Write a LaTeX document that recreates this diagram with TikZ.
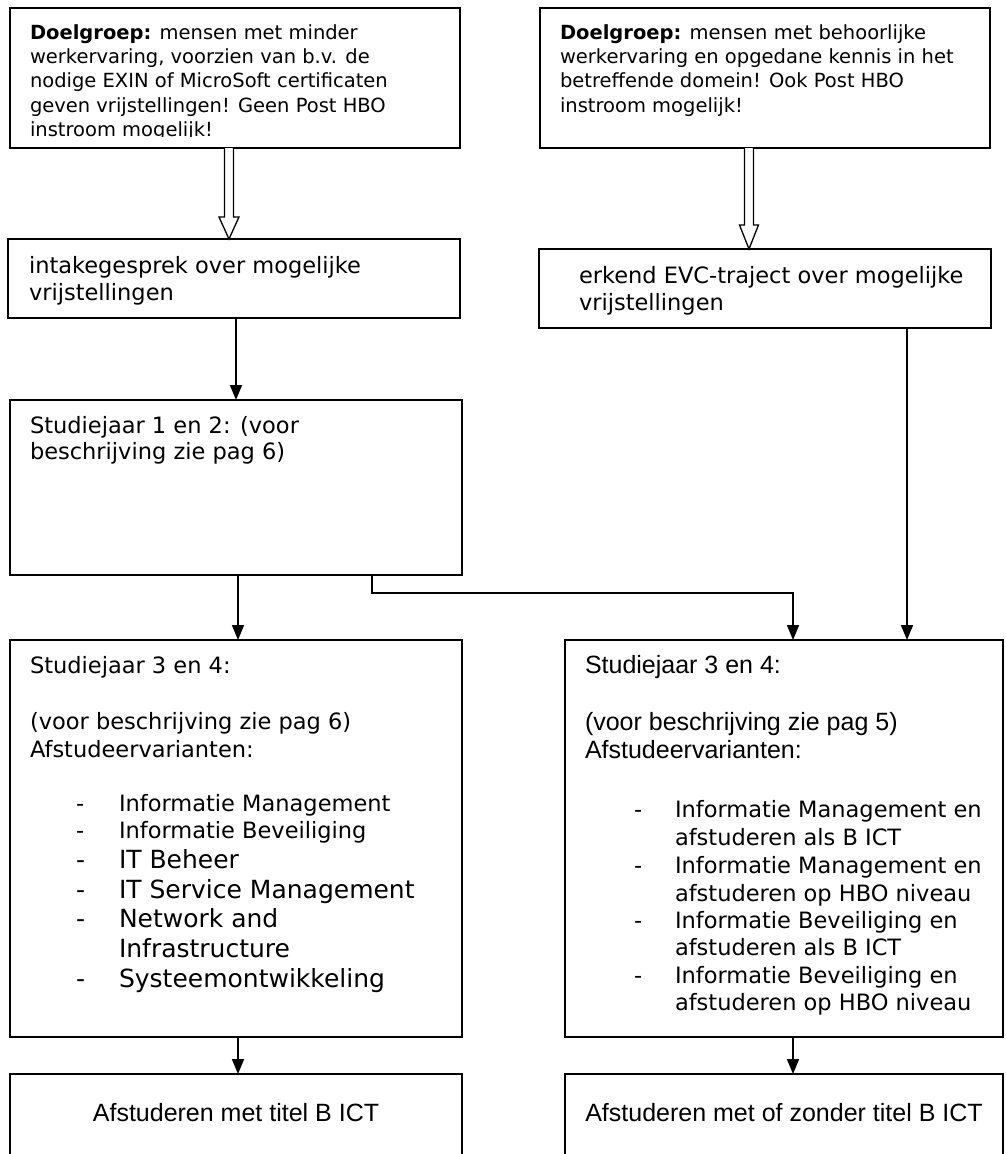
\documentclass[tikz,border=0pt]{standalone}
\usepackage{fontspec}
\setmainfont{DejaVu Sans}
\newfontfamily\af{Liberation Sans}
\usetikzlibrary{arrows.meta,calc}
\tikzset{
  box/.style={draw, line width=1.6pt, rectangle, inner sep=0pt, outer sep=0pt, anchor=north west},
  tl/.style={anchor=base west, inner sep=0pt, outer sep=0pt},
  tc/.style={anchor=base, inner sep=0pt, outer sep=0pt},
  conn/.style={line width=1.6pt, -{Triangle[length=15pt,width=12pt]}},
  hollow/.style={line width=1.3pt, fill=white, line join=miter},
  small/.style={font=\fontsize{19.5}{23}\selectfont},
  mid/.style={font=\fontsize{22.5}{27}\selectfont},
  big/.style={font=\fontsize{25}{30}\selectfont},
  arial/.style={font=\af\fontsize{25}{30}\selectfont},
}
\begin{document}
\begin{tikzpicture}[x=1pt,y=-1pt]
\useasboundingbox[fill=white] (0,0) rectangle (1005,1154);
% boxes
\node[box, minimum width=450pt, minimum height=140pt] (A) at (10,8) {};
\node[box, minimum width=450pt, minimum height=140pt] (B) at (540,8) {};
\node[box, minimum width=452pt, minimum height=79pt] (C) at (8,239) {};
\node[box, minimum width=452pt, minimum height=79pt] (D) at (539,249) {};
\node[box, minimum width=452pt, minimum height=175pt] (E) at (10,400) {};
\node[box, minimum width=452pt, minimum height=397pt] (F) at (10,640) {};
\node[box, minimum width=438pt, minimum height=397pt] (G) at (565,640) {};
\node[box, minimum width=452pt, minimum height=100pt] (H) at (10,1074) {};
\node[box, minimum width=438pt, minimum height=100pt] (I) at (565,1074) {};

% text box A (clipped last line)
\begin{scope}
\clip (10,8) rectangle (460,136.5);
\node[tl, small] (a1t) at (30,39) {\textbf{Doelgroep:} mensen met minder};
\node[tl, small] (a2t) at (30,63) {werkervaring, voorzien van b.v. de};
\node[tl, small] (a3t) at (30,87) {nodige EXIN of MicroSoft certificaten};
\node[tl, small] (a4t) at (30,112) {geven vrijstellingen! Geen Post HBO};
\node[tl, small] (a5t) at (30,136) {instroom mogelijk!};
\end{scope}

% text box B
\node[tl, small] (b1t) at (560,39) {\textbf{Doelgroep:} mensen met behoorlijke};
\node[tl, small] (b2t) at (560,63) {werkervaring en opgedane kennis in het};
\node[tl, small] (b3t) at (560,87) {betreffende domein! Ook Post HBO};
\node[tl, small] (b4t) at (560,112) {instroom mogelijk!};

% text box C
\node[tl, mid] (c1t) at (29,273) {intakegesprek over mogelijke};
\node[tl, mid] (c2t) at (29,300) {vrijstellingen};

% text box D
\node[tl, mid] (d1t) at (579,283) {erkend EVC-traject over mogelijke};
\node[tl, mid] (d2t) at (579,310) {vrijstellingen};

% text box E
\node[tl, mid] (e1t) at (30,433) {Studiejaar 1 en 2: (voor};
\node[tl, mid] (e2t) at (30,459) {beschrijving zie pag 6)};

% text box F
\node[tl, mid] (f1t) at (30,673) {Studiejaar 3 en 4:};
\node[tl, mid] (f2t) at (30,729) {(voor beschrijving zie pag 6)};
\node[tl, mid] (f3t) at (30,757) {Afstudeervarianten:};
\node[tl, mid] (fd1) at (76,811) {-};
\node[tl, mid] (fl1) at (119,811) {Informatie Management};
\node[tl, mid] (fd2) at (76,838) {-};
\node[tl, mid] (fl2) at (119,838) {Informatie Beveiliging};
\node[tl, big] (fd3) at (76,868) {-};
\node[tl, big] (fl3) at (119,868) {IT Beheer};
\node[tl, big] (fd4) at (76,898) {-};
\node[tl, big] (fl4) at (119,898) {IT Service Management};
\node[tl, big] (fd5) at (76,927) {-};
\node[tl, big] (fl5) at (119,927) {Network and};
\node[tl, big] (fl6) at (119,957) {Infrastructure};
\node[tl, big] (fd7) at (76,987) {-};
\node[tl, big] (fl7) at (119,987) {Systeemontwikkeling};

% text box G
\node[tl, arial] (g1t) at (585,673) {Studiejaar 3 en 4:};
\node[tl, arial] (g2t) at (585,730) {(voor beschrijving zie pag 5)};
\node[tl, arial] (g3t) at (585,758) {Afstudeervarianten:};
\node[tl, mid] (gd1) at (634,817) {-};
\node[tl, mid] (gl1) at (675,817) {Informatie Management en};
\node[tl, mid] (gl2) at (675,845) {afstuderen als B ICT};
\node[tl, mid] (gd3) at (634,873) {-};
\node[tl, mid] (gl3) at (675,873) {Informatie Management en};
\node[tl, mid] (gl4) at (675,901) {afstuderen op HBO niveau};
\node[tl, mid] (gd5) at (634,928) {-};
\node[tl, mid] (gl5) at (675,928) {Informatie Beveiliging en};
\node[tl, mid] (gl6) at (675,955) {afstuderen als B ICT};
\node[tl, mid] (gd7) at (634,983) {-};
\node[tl, mid] (gl7) at (675,983) {Informatie Beveiliging en};
\node[tl, mid] (gl8) at (675,1010) {afstuderen op HBO niveau};

% text boxes H, I
\node[tc, arial] (h1t) at (236,1121) {Afstuderen met titel B ICT};
\node[tc, arial] (i1t) at (784,1121) {Afstuderen met of zonder titel B ICT};

% hollow arrows
\coordinate (ha) at ($(A.south west)+(219,0)$);
\coordinate (hc) at ($(C.north west)+(221,0)$);
\draw[hollow] ($(ha)+(-4.5,0)$) -- ($(hc)+(-4.5,-22)$) -- ($(hc)+(-10,-22)$) -- (hc)
  -- ($(hc)+(10,-22)$) -- ($(hc)+(4.5,-22)$) -- ($(ha)+(4.5,0)$);
\coordinate (hb) at ($(B.south west)+(209,0)$);
\coordinate (hd) at ($(D.north west)+(210,0)$);
\draw[hollow] ($(hb)+(-4.5,0)$) -- ($(hd)+(-4.5,-24)$) -- ($(hd)+(-9.5,-24)$) -- (hd)
  -- ($(hd)+(9.5,-24)$) -- ($(hd)+(4.5,-24)$) -- ($(hb)+(4.5,0)$);

% connectors
\draw[conn] ($(C.south west)+(228,0)$) -- ($(E.north west)+(226,0)$);
\draw[conn] ($(E.south west)+(228,0)$) -- ($(F.north west)+(228,0)$);
\draw[conn] ($(E.south west)+(362,0)$) -- ++(0,18) -| ($(G.north west)+(228,0)$);
\draw[conn] ($(D.south west)+(368,0)$) -- ($(G.north west)+(342,0)$);
\draw[conn] ($(F.south west)+(228,0)$) -- ($(H.north west)+(228,0)$);
\draw[conn] ($(G.south west)+(228,0)$) -- ($(I.north west)+(228,0)$);
\end{tikzpicture}
\end{document}
